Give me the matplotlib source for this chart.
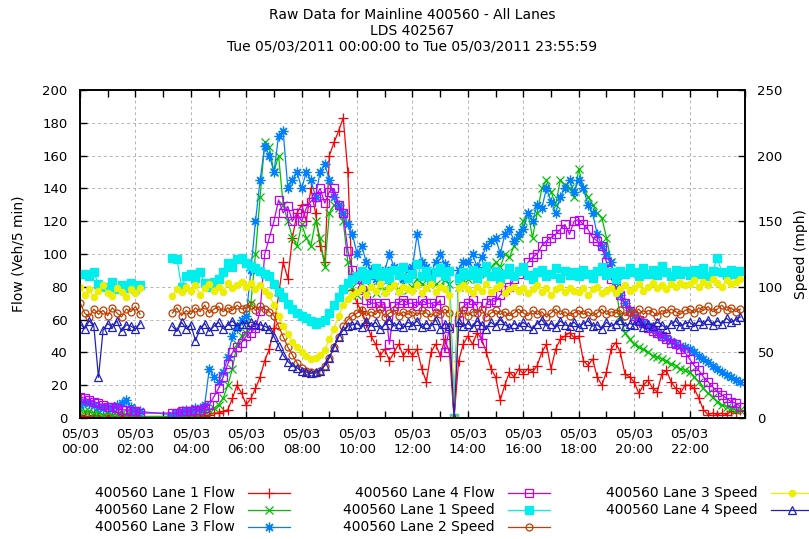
import numpy as np
import matplotlib
matplotlib.use("Agg")
import matplotlib.pyplot as plt
from matplotlib.lines import Line2D

nan = float("nan")

# time of day in hours, 10-minute samples (each row below = 2 hours)
hours = [i / 6 for i in range(144)]
tick_hours = list(range(0, 24, 2))
tick_labels = ["05/03\n%02d:00" % h for h in tick_hours]

# Flow (veh / 5 min)
lane1_flow = [
    2, 1, 1, 2, 1, 1, 2, 1, 1, 2, 1, 1,
    1, 1, nan, nan, nan, nan, nan, nan, 0, 1, 1, 1,
    1, 1, 2, 1, 2, 3, 3, 4, 5, 12, 20, 15,
    8, 12, 18, 25, 35, 42, 55, 75, 95, 85, 110, 125,
    130, 120, 140, 125, 105, 95, 160, 168, 175, 183, 150, 78,
    70, 65, 58, 50, 45, 38, 42, 35, 40, 45, 38, 42,
    38, 42, 30, 22, 40, 45, 38, 48, 40, 0, 35, 45,
    50, 45, 52, 48, 40, 30, 25, 11, 20, 28, 25, 30,
    27, 30, 28, 32, 40, 45, 30, 42, 48, 50, 52, 49,
    50, 35, 32, 36, 25, 20, 28, 42, 46, 40, 27, 25,
    22, 15, 20, 23, 18, 16, 27, 29, 22, 18, 15, 20,
    20, 18, 12, 5, 2, 3, 2, 3, 2, 4, 3, 5,
]
lane2_flow = [
    5, 4, 4, 3, 3, 2, 3, 2, 2, 3, 2, 2,
    2, 1, nan, nan, nan, nan, nan, nan, 1, 1, 2, 2,
    2, 3, 3, 4, 5, 6, 8, 12, 20, 30, 45, 50,
    52, 70, 100, 135, 168, 165, 150, 160, 130, 120, 110, 105,
    118, 110, 105, 120, 110, 92, 125, 130, 128, 120, 95, 80,
    75, 82, 78, 80, 76, 80, 78, 82, 80, 78, 82, 78,
    80, 85, 82, 80, 84, 82, 80, 84, 82, 0, 80, 84,
    85, 88, 85, 90, 88, 92, 95, 92, 100, 98, 105, 110,
    120, 125, 110, 125, 140, 145, 138, 130, 145, 142, 140, 135,
    152, 140, 135, 130, 125, 122, 110, 95, 80, 62, 52, 48,
    45, 43, 42, 40, 38, 37, 36, 35, 33, 32, 30, 29,
    28, 25, 22, 18, 15, 13, 10, 8, 7, 6, 5, 5,
]
lane3_flow = [
    8, 10, 9, 8, 7, 6, 7, 6, 8, 9, 11, 7,
    5, 4, nan, nan, nan, nan, nan, nan, 2, 3, 4, 5,
    5, 6, 6, 8, 30, 25, 22, 28, 37, 50, 55, 60,
    62, 90, 120, 145, 166, 160, 150, 172, 175, 140, 145, 150,
    140, 150, 145, 135, 150, 155, 145, 135, 130, 125, 118, 112,
    100, 105, 95, 90, 85, 88, 90, 100, 92, 88, 85, 90,
    92, 112, 95, 92, 88, 95, 100, 94, 90, 0, 90, 95,
    95, 100, 92, 98, 105, 108, 110, 100, 112, 115, 108, 112,
    115, 125, 120, 130, 128, 140, 132, 125, 135, 140, 145, 138,
    145, 140, 130, 125, 112, 105, 100, 95, 85, 75, 70, 66,
    62, 60, 58, 56, 54, 52, 50, 49, 47, 45, 44, 43,
    42, 40, 38, 36, 34, 32, 30, 28, 26, 25, 23, 22,
]
lane4_flow = [
    13, 12, 11, 10, 9, 8, 7, 7, 6, 5, 5, 4,
    4, 3, nan, nan, nan, nan, nan, nan, 3, 3, 4, 4,
    4, 5, 5, 6, 8, 13, 18, 25, 33, 40, 43, 46,
    50, 52, 55, 65, 100, 110, 120, 133, 125, 129, 120, 125,
    120, 128, 132, 135, 140, 131, 138, 140, 130, 125, 102, 90,
    85, 78, 72, 70, 70, 68, 70, 45, 68, 70, 72, 70,
    70, 68, 72, 70, 70, 68, 72, 40, 55, 0, 60, 68,
    70, 72, 68, 46, 70, 72, 71, 75, 78, 80, 85, 88,
    90, 95, 98, 100, 105, 108, 110, 112, 115, 118, 112, 120,
    121, 118, 115, 110, 108, 105, 95, 85, 80, 75, 70, 65,
    62, 60, 58, 55, 53, 52, 50, 48, 46, 45, 42, 40,
    36, 32, 29, 25, 22, 19, 16, 14, 12, 10, 9, 7,
]

# Speed (mph)
lane1_speed = [
    110, 110, 108, 111, 102, 100, 100, 104, 98, 101, 99, 103,
    98, 101, nan, nan, nan, nan, nan, nan, 122, 121, 100, 108,
    110, 107, 111, 103, 100, 104, 106, 111, 118, 115, 121, 122,
    118, 116, 114, 112, 110, 108, 102, 96, 92, 87, 83, 80,
    78, 76, 74, 72, 73, 75, 80, 86, 92, 98, 103, 106,
    108, 112, 106, 110, 114, 108, 111, 106, 113, 109, 115, 107,
    110, 117, 108, 112, 106, 111, 114, 108, 112, 0, 107, 111,
    109, 113, 107, 111, 116, 108, 112, 106, 110, 114, 108, 112,
    115, 109, 106, 111, 113, 108, 110, 114, 107, 112, 109, 111,
    108, 113, 110, 107, 112, 115, 109, 111, 106, 112, 110, 114,
    111, 108, 114, 110, 113, 109, 116, 111, 108, 113, 110, 112,
    109, 113, 110, 114, 108, 112, 122, 111, 109, 113, 110, 112,
]
lane2_speed = [
    88, 80, 77, 83, 79, 82, 78, 84, 80, 77, 83, 81,
    85, 79, nan, nan, nan, nan, nan, nan, 80, 84, 78, 82,
    79, 84, 81, 86, 80, 83, 85, 81, 84, 82, 86, 83,
    84, 86, 82, 85, 83, 81, 78, 70, 62, 54, 48, 42,
    38, 36, 35, 34, 36, 40, 46, 54, 62, 70, 75, 78,
    80, 82, 78, 81, 79, 83, 77, 80, 82, 78, 81, 79,
    81, 78, 82, 80, 77, 81, 79, 83, 80, 0, 79, 82,
    78, 81, 80, 83, 77, 80, 82, 79, 81, 78, 80, 83,
    80, 78, 82, 79, 81, 77, 80, 83, 79, 81, 78, 80,
    82, 79, 81, 78, 80, 83, 79, 81, 80, 82, 78, 81,
    80, 83, 79, 82, 81, 78, 82, 80, 83, 81, 79, 82,
    83, 80, 84, 82, 85, 81, 83, 86, 82, 84, 81, 83,
]
lane3_speed = [
    100, 94, 98, 92, 97, 101, 95, 93, 99, 96, 92, 98,
    95, 99, nan, nan, nan, nan, nan, nan, 93, 98, 96, 100,
    97, 101, 94, 99, 102, 97, 100, 96, 103, 99, 101, 104,
    100, 103, 98, 101, 97, 94, 86, 78, 70, 64, 58, 54,
    50, 47, 45, 46, 48, 52, 60, 68, 78, 86, 91, 94,
    96, 99, 94, 100, 97, 102, 95, 99, 101, 96, 100, 98,
    97, 101, 95, 99, 102, 96, 100, 98, 94, 0, 99, 101,
    98, 95, 100, 97, 102, 96, 99, 101, 95, 98, 100, 97,
    99, 95, 98, 101, 96, 99, 94, 98, 100, 96, 99, 97,
    96, 99, 94, 98, 100, 95, 97, 99, 95, 98, 101, 97,
    99, 102, 97, 100, 103, 99, 101, 98, 102, 100, 103, 101,
    102, 105, 100, 104, 101, 106, 103, 100, 105, 102, 104, 106,
]
lane4_speed = [
    72, 68, 74, 70, 31, 67, 72, 69, 74, 66, 71, 70,
    68, 72, nan, nan, nan, nan, nan, nan, 70, 66, 73, 68,
    71, 59, 68, 72, 66, 70, 73, 68, 71, 74, 70, 72,
    72, 73, 72, 71, 70, 68, 62, 55, 48, 43, 40, 38,
    36, 35, 34, 35, 36, 40, 46, 54, 62, 67, 70, 71,
    72, 69, 74, 70, 73, 68, 71, 75, 70, 72, 69, 73,
    71, 74, 69, 72, 70, 75, 68, 72, 70, 0, 73, 70,
    72, 69, 74, 71, 68, 73, 70, 75, 71, 69, 72, 70,
    73, 70, 68, 72, 75, 70, 72, 69, 74, 71, 70, 73,
    69, 72, 74, 70, 71, 68, 73, 70, 72, 75, 70, 72,
    71, 74, 69, 72, 70, 73, 71, 68, 72, 74, 70, 72,
    73, 70, 74, 72, 75, 71, 74, 72, 76, 73, 75, 77,
]

labels = ["400560 Lane 1 Flow", "400560 Lane 2 Flow", "400560 Lane 3 Flow",
          "400560 Lane 4 Flow", "400560 Lane 1 Speed", "400560 Lane 2 Speed",
          "400560 Lane 3 Speed", "400560 Lane 4 Speed"]

W, H = 809, 539
plt.rcParams["font.family"] = ["DejaVu Sans"]
fig = plt.figure(figsize=(W / 100, H / 100), dpi=100)
fig.patch.set_facecolor("white")
ax = fig.add_axes([80 / W, 1 - 418 / H, 665 / W, 328 / H])
ax2 = ax.twinx()

# (axis, data, color, marker, size, filled, connect gaps)
series = [
    (ax, lane1_flow, "#ff0000", "+", 7, True, True),
    (ax, lane2_flow, "#00c000", "x", 6, True, True),
    (ax, lane3_flow, "#0080ff", (8, 2, 0), 7, True, True),
    (ax, lane4_flow, "#c000ff", "s", 6, False, True),
    (ax2, lane1_speed, "#00eeee", "s", 5.5, True, False),
    (ax2, lane2_speed, "#c04000", "o", 5, False, False),
    (ax2, lane3_speed, "#eeee00", "o", 4.5, True, False),
    (ax2, lane4_speed, "#2020c0", "^", 6, False, False),
]

xs = np.asarray(hours, float)
for axis, data, color, marker, ms, filled, connect in series:
    y = np.asarray(data, float)
    x = xs
    if connect:
        m = np.isfinite(y)
        x, y = x[m], y[m]
    axis.plot(x, y, color=color, lw=0.9, marker=marker, ms=ms, mew=0.9,
              mfc=color if filled else "none", mec=color, clip_on=True)

ax.set_xlim(0, 24)
ax.set_ylim(0, 200)
ax2.set_ylim(0, 250)
ax.set_xticks(tick_hours)
ax.set_xticklabels(tick_labels)
ax.set_xticks(range(0, 25), minor=True)
ax.set_yticks(range(0, 201, 20))
ax2.set_yticks(range(0, 251, 50))

ax.tick_params(axis="x", which="both", direction="in", top=True, bottom=True,
               length=5, width=1, labelsize=9.5, pad=7)
ax.tick_params(axis="y", direction="in", left=True, right=False,
               length=5, width=1, labelsize=9.5, pad=9)
ax2.tick_params(axis="y", direction="in", right=True, length=5, width=1,
                labelsize=9.5, pad=9)

ax.grid(True, which="major", color="#b4b4b4", lw=0.7, ls=(0, (3, 3)))
ax.set_axisbelow(True)
for a in (ax, ax2):
    for s in a.spines.values():
        s.set_linewidth(1.2)
        s.set_color("black")

# titles
fig.text(412 / W, 1 - 15 / H, "Raw Data for Mainline 400560 - All Lanes",
         ha="center", va="center", fontsize=10)
fig.text(412 / W, 1 - 31 / H, "LDS 402567", ha="center", va="center", fontsize=10)
fig.text(412 / W, 1 - 47 / H, "Tue 05/03/2011 00:00:00 to Tue 05/03/2011 23:55:59",
         ha="center", va="center", fontsize=10)

# axis labels
fig.text(19 / W, 1 - 254 / H, "Flow (Veh/5 min)", rotation=90,
         ha="center", va="center", fontsize=10)
fig.text(794 / W, 1 - 254 / H, "Speed (mph)", rotation=90,
         ha="left", va="center", fontsize=10)

# legend (gnuplot style: right-aligned text, sample on the right)
cols = [235, 495, 758]
rows = [493, 510, 527]
positions = [(0, 0), (0, 1), (0, 2), (1, 0), (1, 1), (1, 2), (2, 0), (2, 1)]
for (ci, ri), lab, (_, _, color, marker, ms, filled, _) in zip(positions, labels, series):
    xr = cols[ci]
    yy = 1 - rows[ri] / H
    fig.text(xr / W, yy, lab, ha="right", va="center", fontsize=10)
    x0, x1 = (xr + 13) / W, (xr + 55) / W
    fig.add_artist(Line2D([x0, x1], [yy, yy], transform=fig.transFigure,
                          color=color, lw=0.9))
    fig.add_artist(Line2D([(x0 + x1) / 2], [yy], transform=fig.transFigure,
                          color=color, marker=marker, ms=ms, mew=0.9,
                          mfc=color if filled else "none", mec=color, lw=0))

fig.savefig("out.png", dpi=100, facecolor="white")
